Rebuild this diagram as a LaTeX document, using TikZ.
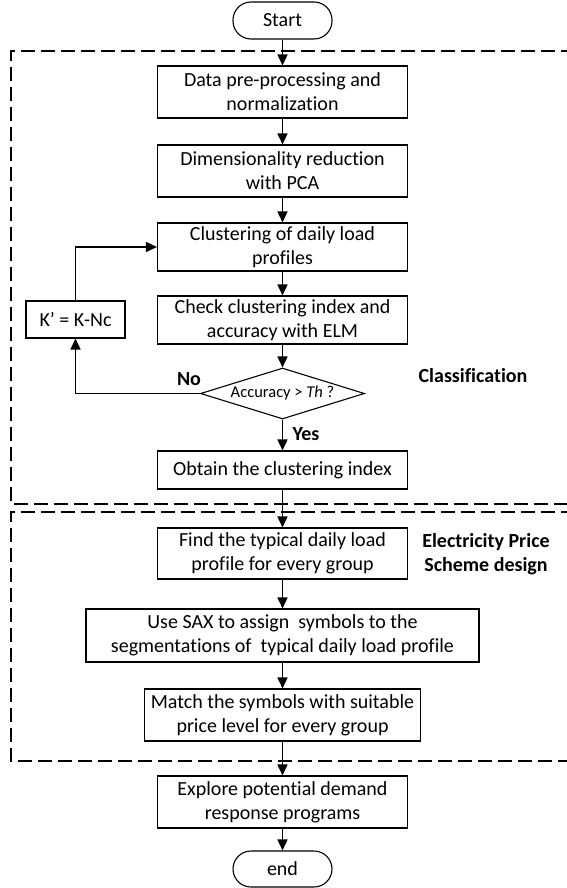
\documentclass[tikz,border=0pt]{standalone}
\usepackage{fontspec}
\setmainfont{Carlito}[Ligatures=CommonOff]
\usetikzlibrary{arrows.meta,shapes.geometric}
\begin{document}
\begin{tikzpicture}[x=1pt,y=-1pt,
  box/.style={draw,line width=1.1pt,minimum width=250pt,align=center,inner sep=0pt,font=\fontsize{20}{24}\selectfont},
  term/.style={draw,line width=1.1pt,rounded corners=18pt,minimum width=99pt,minimum height=37pt,inner sep=0pt,font=\fontsize{20}{24}\selectfont},
  dia/.style={draw,line width=1.1pt,shape=diamond,aspect=3.2,inner sep=0pt,minimum width=164pt,minimum height=51pt,font=\fontsize{16.5}{20}\selectfont},
  arr/.style={line width=1.6pt,-{Triangle[length=11pt,width=10pt]}},
  lbl/.style={font=\bfseries\fontsize{20}{24}\selectfont,align=center,inner sep=0pt},
  frame/.style={line width=1.6pt,dash pattern=on 14pt off 6pt}]
\useasboundingbox (0,0) rectangle (566,888);
% frames
\draw[frame] (575,51) -- (11,51) -- (11,504) -- (575,504);
\draw[frame] (575,512) -- (11,512) -- (11,761) -- (575,761);
% nodes
\node[term] (start) at (282.5,20.5) {Start};
\node[box,minimum height=52pt] (b1) at (282.5,92) {Data pre-processing and\\normalization};
\node[box,minimum height=52pt] (b2) at (282.5,171) {Dimensionality reduction\\with PCA};
\node[box,minimum height=48pt] (b3) at (282.5,247) {Clustering of daily load\\profiles};
\node[box,minimum height=48pt] (b4) at (282.5,320) {Check clustering index and\\accuracy with ELM};
\node[dia] (d) at (282.5,393.5) {Accuracy > \textit{Th} ?};
\node[box,minimum height=38pt] (b5) at (282.5,470) {Obtain the clustering index};
\node[box,minimum height=51pt] (b6) at (282.5,553.5) {Find the typical daily load\\profile for every group};
\node[box,minimum height=53pt,minimum width=393pt] (b7) at (282.5,635.5) {Use SAX to assign\ \ symbols to the\\segmentations of\ \ typical daily load profile};
\node[box,minimum height=52pt,minimum width=276pt] (b8) at (282.5,715) {Match the symbols with suitable\\price level for every group};
\node[box,minimum height=52pt] (b9) at (282.5,802) {Explore potential demand\\response programs};
\node[term,minimum height=36pt] (end) at (282.5,869) {end};
\node[box,minimum width=99pt,minimum height=37pt] (k) at (75.5,319.5) {K’ = K-Nc};
% labels
\node[lbl] (no) at (189,379) {No};
\node[lbl] (yes) at (306,434) {Yes};
\node[lbl] (cls) at (473,376) {Classification};
\node[lbl] (eps) at (486,554) {Electricity Price\\Scheme design};
% connectors
\draw[arr] (start) -- (b1);
\draw[arr] (b1) -- (b2);
\draw[arr] (b2) -- (b3);
\draw[arr] (b3) -- (b4);
\draw[arr] (b4) -- (d);
\draw[arr] (d) -- (b5);
\draw[arr] (b5) -- (b6);
\draw[arr] (b6) -- (b7);
\draw[arr] (b7) -- (b8);
\draw[arr] (b8) -- (b9);
\draw[arr] (b9) -- (end);
\draw[arr] (d.west) -| (k.south);
\draw[arr] (k.north) |- (b3.west);
\end{tikzpicture}
\end{document}
